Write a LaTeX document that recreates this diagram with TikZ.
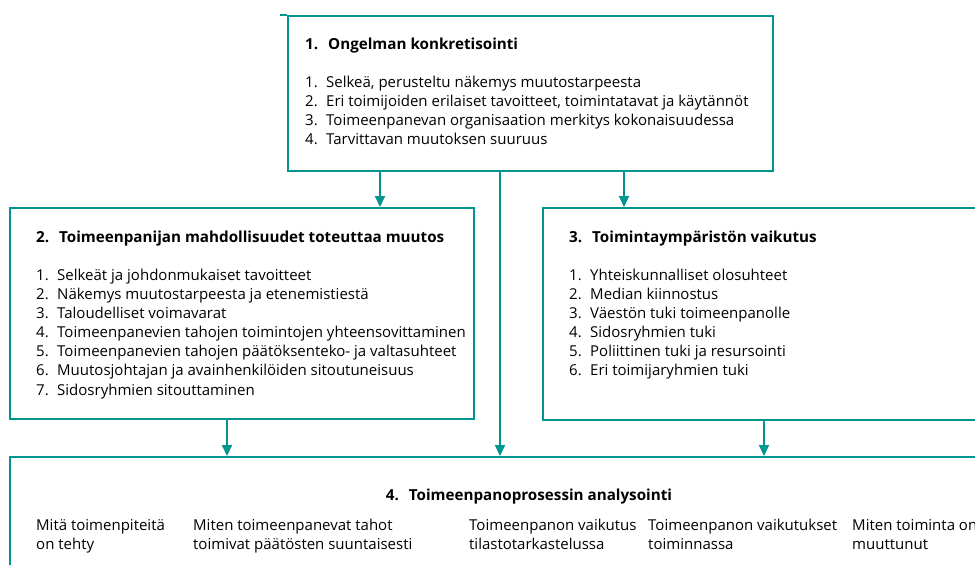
\documentclass[tikz,border=0pt]{standalone}
\usepackage{fontspec}
\setmainfont{Open Sans}
\usetikzlibrary{arrows.meta}
\definecolor{teal1}{RGB}{0,150,143}
\begin{document}
\begin{tikzpicture}[x=1pt,y=-1pt,
  box/.style={draw=teal1, line width=2pt, fill=white, anchor=north west, inner sep=0pt},
  arr/.style={draw=teal1, line width=2pt, -{Triangle[width=10pt,length=11pt]}},
  line/.style={draw=teal1, line width=2pt},
  head/.style={font=\fontsize{15.2}{18}\selectfont\bfseries, anchor=base west, inner sep=0pt},
  item/.style={font=\fontsize{15}{18}\selectfont, anchor=base west, inner sep=0pt},
]
\useasboundingbox (0,0) rectangle (975,565);
\clip (0,0) rectangle (975,565);

% boxes
\node[box, minimum width=485pt, minimum height=155.5pt] (b1) at (287,14.5) {};
\node[box, minimum width=464pt, minimum height=211pt] (b2) at (9,207) {};
\node[box, minimum width=480pt, minimum height=212pt] (b3) at (542,207) {};
\node[box, minimum width=1060pt, minimum height=200pt] (b4) at (9,456) {};
\coordinate (lead) at (280,14.5);
\draw[line] (lead) -- (b1.north west);

% connector columns
\coordinate (xa) at (380,0);
\coordinate (xb) at (500,0);
\coordinate (xc) at (624,0);
\coordinate (xd) at (227,0);
\coordinate (xe) at (764,0);
\draw[arr] (b1.south -| xa) -- (b2.north -| xa);
\draw[arr] (b1.south -| xc) -- (b3.north -| xc);
\draw[arr] (b1.south -| xb) -- (b4.north -| xb);
\draw[arr] (b2.south -| xd) -- (b4.north -| xd);
\draw[arr] (b3.south -| xe) -- (b4.north -| xe);

% box 1
\node[head] (t1) at (305,49.5) {\makebox[23pt][l]{1.}Ongelman konkretisointi};
\foreach \t [count=\i] in {{Selkeä, perusteltu näkemys muutostarpeesta},
  {Eri toimijoiden erilaiset tavoitteet, toimintatavat ja käytännöt},
  {Toimeenpanevan organisaation merkitys kokonaisuudessa},
  {Tarvittavan muutoksen suuruus}}
  \node[item] (a\i) at (305,{87.7+19*(\i-1)}) {\makebox[21pt][l]{\i.}\t};

% box 2
\node[head] (t2) at (36,242.3) {\makebox[23pt][l]{2.}Toimeenpanijan mahdollisuudet toteuttaa muutos};
\foreach \t [count=\i] in {{Selkeät ja johdonmukaiset tavoitteet},
  {Näkemys muutostarpeesta ja etenemistiestä},
  {Taloudelliset voimavarat},
  {Toimeenpanevien tahojen toimintojen yhteensovittaminen},
  {Toimeenpanevien tahojen päätöksenteko- ja valtasuhteet},
  {Muutosjohtajan ja avainhenkilöiden sitoutuneisuus},
  {Sidosryhmien sitouttaminen}}
  \node[item] (b\i) at (36,{280.7+19.05*(\i-1)}) {\makebox[21pt][l]{\i.}\t};

% box 3
\node[head] (t3) at (569,242.3) {\makebox[23pt][l]{3.}Toimintaympäristön vaikutus};
\foreach \t [count=\i] in {{Yhteiskunnalliset olosuhteet},
  {Median kiinnostus},
  {Väestön tuki toimeenpanolle},
  {Sidosryhmien tuki},
  {Poliittinen tuki ja resursointi},
  {Eri toimijaryhmien tuki}}
  \node[item] (c\i) at (569,{280.7+19*(\i-1)}) {\makebox[21pt][l]{\i.}\t};

% box 4
\node[head, anchor=base] (t4) at (529,500) {\makebox[23pt][l]{4.}Toimeenpanoprosessin analysointi};
\foreach \x/\p/\q [count=\i] in {36/{Mitä toimenpiteitä}/{on tehty},
  193/{Miten toimeenpanevat tahot}/{toimivat päätösten suuntaisesti},
  469/{Toimeenpanon vaikutus}/{tilastotarkastelussa},
  648/{Toimeenpanon vaikutukset}/{toiminnassa},
  852/{Miten toiminta on}/{muuttunut}} {
  \node[item] (d\i a) at (\x,530.7) {\p};
  \node[item] (d\i b) at (\x,549.7) {\q};
}
\end{tikzpicture}
\end{document}
